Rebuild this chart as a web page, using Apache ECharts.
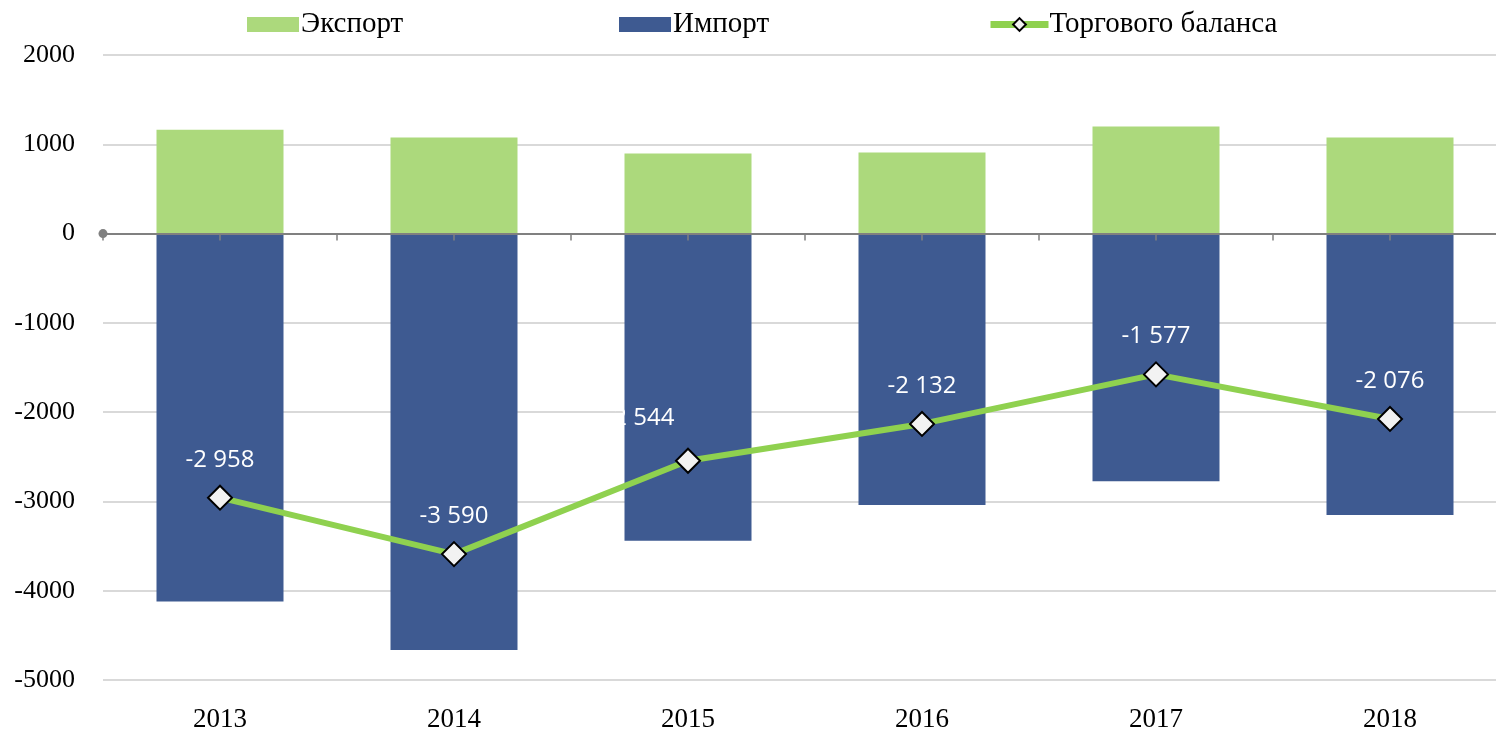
<!DOCTYPE html>
<html><head><meta charset="utf-8">
<script src="https://cdn.jsdelivr.net/npm/echarts@6/dist/echarts.min.js"></script>
<style>html,body{margin:0;padding:0;background:#fff}#c{width:1496px;height:732px}</style>
</head><body><div id="c"></div>
<script>
const years = ['2013','2014','2015','2016','2017','2018'];
const exportVals = [1164, 1075, 896, 907, 1198, 1075];
const importVals = [-4122, -4665, -3440, -3039, -2775, -3151];
const balanceVals = [-2958, -3590, -2544, -2132, -1577, -2076];
const halfTicks = ['a','b','c','d','e','f','g','h','i','j','k','l'];

const chart = echarts.init(document.getElementById('c'));
const serif = '"Liberation Serif", "DejaVu Serif", serif';
const fmt = v => { const s = Math.abs(v).toString(); const t = s.length > 3 ? s.slice(0, s.length-3) + ' ' + s.slice(-3) : s; return (v < 0 ? '-' : '') + t; };
const legText = { fontFamily: serif, fontSize: 29, color: '#000' };
// the 2015 label was moved left in the original chart
const balanceData = balanceVals.map((v, i) => i === 2 ? { value: v, label: { offset: [-48, -5] } } : v);
chart.setOption({
  animation: false,
  grid: { left: 103, width: 1404, top: 55, bottom: 52, containLabel: false, outerBoundsMode: 'none' },
  legend: [
    { data: ['Экспорт'], left: 242, top: 5, itemWidth: 52, itemHeight: 15, icon: 'rect',
      textStyle: Object.assign({ padding: [0,0,0,-3] }, legText) },
    { data: ['Импорт'], left: 614, top: 5, itemWidth: 52, itemHeight: 15, icon: 'rect',
      textStyle: Object.assign({ padding: [0,0,0,-3] }, legText) },
    { data: ['Торгового баланса'], left: 982, top: 5, itemWidth: 58, itemHeight: 16,
      lineStyle: { width: 7 },
      textStyle: Object.assign({ padding: [0,0,0,-4] }, legText) }
  ],
  xAxis: [
    { type: 'category', data: years, position: 'bottom', z: 3,
      axisLine: { onZero: true, lineStyle: { color: '#808080', width: 2 }, symbol: ['circle','none'], symbolSize: [9,9] },
      axisTick: { show: false },
      axisLabel: { show: true, fontFamily: serif, fontSize: 27, color: '#000', margin: 26 },
      splitLine: { show: false }
    },
    { type: 'category', data: halfTicks, position: 'bottom', z: 3,
      axisLine: { show: true, onZero: true, onZeroAxisIndex: 1, lineStyle: { color: 'rgba(0,0,0,0)' } },
      axisTick: { show: true, interval: 0, length: 7, lineStyle: { color: '#808080', width: 1.5 } },
      axisLabel: { show: false, interval: 0 }, splitLine: { show: false }
    }
  ],
  yAxis: [
    { type: 'value', min: -5000, max: 2000, interval: 1000,
      axisLine: { show: false }, axisTick: { show: false },
      axisLabel: { fontFamily: serif, fontSize: 26, color: '#000', margin: 28, formatter: v => String(v) },
      splitLine: { lineStyle: { color: '#d9d9d9', width: 2 } }
    },
    { type: 'value', min: -5000, max: 2000, interval: 1000, show: false,
      axisLine: { show: false }, axisTick: { show: false }, axisLabel: { show: false }, splitLine: { show: false } }
  ],
  series: [
    { name: 'Экспорт', type: 'bar', data: exportVals, stack: 'tot', barWidth: 127,
      itemStyle: { color: '#acd97c' } },
    { name: 'Импорт', type: 'bar', data: importVals, stack: 'tot', barWidth: 127,
      itemStyle: { color: '#3e5a91' } },
    { name: 'Торгового баланса', type: 'line', data: balanceData, z: 5,
      lineStyle: { color: '#8fd14f', width: 6 },
      itemStyle: { color: '#f2f2f2', borderColor: '#000', borderWidth: 2 },
      symbol: 'diamond', symbolSize: 24,
      label: { show: true, position: 'top', distance: 13, color: '#fff',
        fontFamily: '"Open Sans", sans-serif', fontSize: 24,
        formatter: p => fmt(p.value) }
    }
  ]
});
</script></body></html>
